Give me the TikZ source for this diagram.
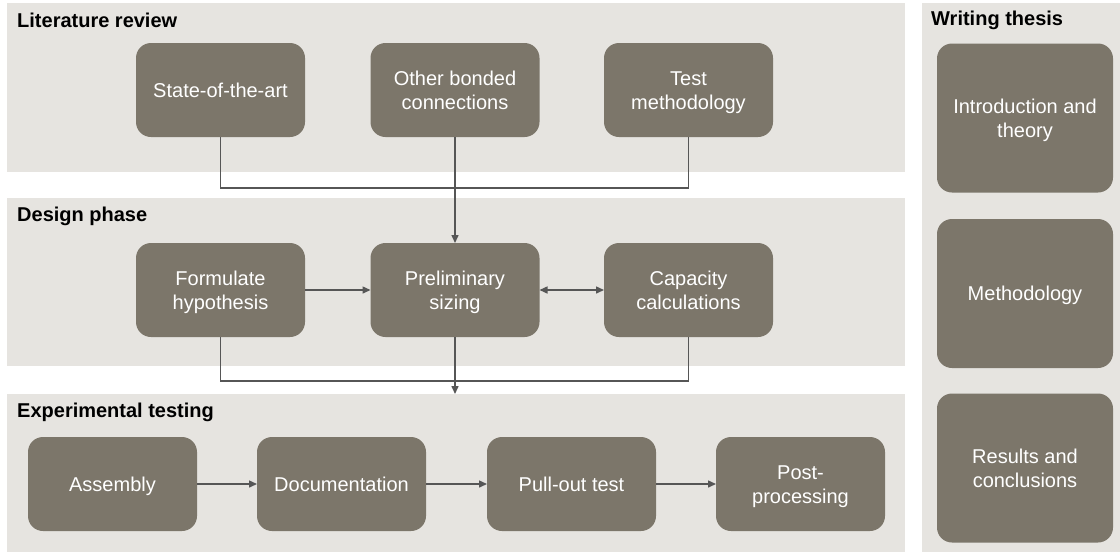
\documentclass[tikz,border=0pt]{standalone}
\usepackage{fontspec}
\setmainfont{Liberation Sans}
\usetikzlibrary{arrows.meta}
\definecolor{panelbg}{HTML}{E6E4E0}
\definecolor{boxfill}{HTML}{7C766A}
\definecolor{linecol}{HTML}{565656}
% struts that place the text block slightly below the box centre
\newcommand{\topstrut}{\rule{0pt}{22pt}}
\newcommand{\topstruttall}{\rule{0pt}{46pt}}
\newcommand{\botstrut}{\rule[-8pt]{0pt}{8pt}}
\tikzset{
  panel/.style={fill=panelbg, draw=none, anchor=north west, inner sep=0, outer sep=0},
  stepbox/.style={fill=boxfill, draw=none, rounded corners=15pt, minimum width=169pt,
    minimum height=94pt, inner sep=0, outer sep=0, text=white, align=center,
    font=\fontsize{20}{24}\selectfont,
    execute at begin node=\topstrut, execute at end node=\botstrut},
  twoline/.style={stepbox, execute at begin node=\topstruttall},
  sidebox/.style={minimum width=176pt, minimum height=149pt},
  paneltitle/.style={anchor=west, inner sep=0, font=\fontsize{20}{24}\selectfont\bfseries},
  conn/.style={draw=linecol, line width=1.5pt},
  arr/.style={conn, -{Triangle[length=8pt,width=7pt]}},
  arrboth/.style={conn, {Triangle[length=8pt,width=7pt]}-{Triangle[length=8pt,width=7pt]}},
}
\begin{document}
\begin{tikzpicture}[x=1pt, y=-1pt]
\useasboundingbox (0,0) rectangle (1120,555);

% background panels
\node[panel, minimum width=898pt, minimum height=169pt] (plit) at (7,3) {};
\node[panel, minimum width=898pt, minimum height=168pt] (pdes) at (7,198) {};
\node[panel, minimum width=898pt, minimum height=158pt] (pexp) at (7,394) {};
\node[panel, minimum width=198pt, minimum height=549pt] (pwri) at (922,3) {};

% panel titles
\node[paneltitle] (tlit) at (17,20) {Literature review};
\node[paneltitle] (tdes) at (17,216) {Design phase};
\node[paneltitle] (texp) at (17,412) {Experimental testing};
\node[paneltitle] (twri) at (931,20) {Writing thesis};

% literature review
\node[stepbox] (sota) at (220.5,90) {State-of-the-art};
\node[twoline] (other) at (455,90) {Other bonded\\connections};
\node[twoline] (meth) at (688.5,90) {Test\\methodology};

% design phase
\node[twoline] (form) at (220.5,290) {Formulate\\hypothesis};
\node[twoline] (prel) at (455,290) {Preliminary\\sizing};
\node[twoline] (capa) at (688.5,290) {Capacity\\calculations};

% experimental testing
\node[stepbox] (assy) at (112.5,484) {Assembly};
\node[stepbox] (docu) at (341.5,484) {Documentation};
\node[stepbox] (pull) at (571.5,484) {Pull-out test};
\node[twoline] (post) at (800.5,484) {Post-\\processing};

% writing thesis
\node[twoline, sidebox] (intro) at (1025,118) {Introduction and\\theory};
\node[stepbox, sidebox] (wmeth) at (1025,293.5) {Methodology};
\node[twoline, sidebox] (resu) at (1025,468) {Results and\\conclusions};

% connectors
\draw[conn] (sota.south) -- ++(0,51) -| (meth.south);
\draw[arr] (other.south) -- (prel.north);
\draw[arr] (form.east) -- (prel.west);
\draw[arrboth] (prel.east) -- (capa.west);
\draw[conn] (form.south) -- ++(0,44) -| (capa.south);
\draw[arr] (prel.south) -- (prel.south |- pexp.north);
\draw[arr] (assy.east) -- (docu.west);
\draw[arr] (docu.east) -- (pull.west);
\draw[arr] (pull.east) -- (post.west);
\end{tikzpicture}
\end{document}
